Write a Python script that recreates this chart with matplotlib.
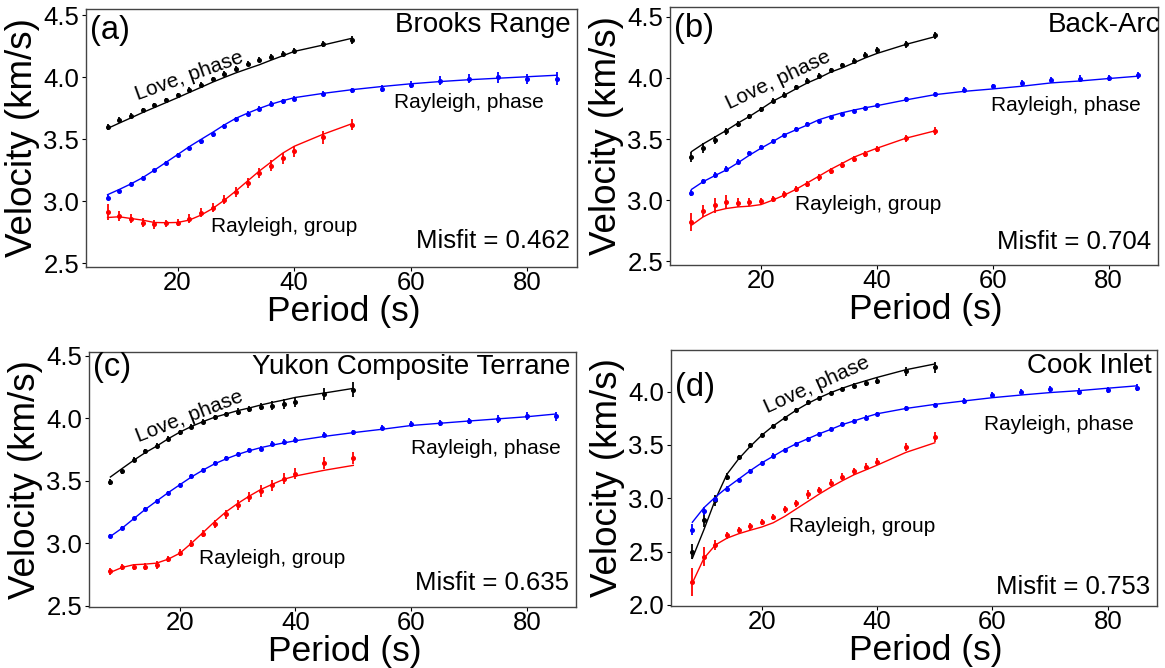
import matplotlib
matplotlib.use("Agg")
import matplotlib.pyplot as plt

plt.rcParams['font.family'] = ['Liberation Sans', 'DejaVu Sans']

# Periods (s)
periods_short = [8, 10, 12, 14, 16, 18, 20, 22, 24, 26, 28, 30, 32, 34, 36, 38, 40, 45, 50]
periods_long = periods_short + [55, 60, 65, 70, 75, 80, 85]

# ---------------- (a) Brooks Range ----------------
love_obs_a = [3.60, 3.656, 3.691, 3.733, 3.773, 3.813, 3.856, 3.899, 3.941, 3.984,
              4.027, 4.069, 4.109, 4.141, 4.165, 4.189, 4.213, 4.267, 4.301]
love_err_a = [0.025, 0.02, 0.02, 0.02, 0.02, 0.02, 0.02, 0.02, 0.02, 0.02,
              0.02, 0.02, 0.02, 0.02, 0.02, 0.02, 0.02, 0.025, 0.03]
love_fit_a = [3.587, 3.63, 3.672, 3.715, 3.755, 3.795, 3.835, 3.877, 3.918, 3.96,
              3.998, 4.035, 4.068, 4.10, 4.137, 4.172, 4.208, 4.26, 4.315]
rph_obs_a = [3.029, 3.083, 3.141, 3.187, 3.248, 3.309, 3.371, 3.432, 3.483, 3.539,
             3.603, 3.661, 3.707, 3.747, 3.787, 3.808, 3.827, 3.867, 3.893,
             3.909, 3.941, 3.973, 3.987, 4.0, 3.989, 3.989]
rph_err_a = [0.02, 0.015, 0.015, 0.015, 0.015, 0.015, 0.015, 0.015, 0.02, 0.02,
             0.02, 0.02, 0.02, 0.02, 0.02, 0.02, 0.02, 0.02, 0.02,
             0.025, 0.03, 0.035, 0.035, 0.045, 0.04, 0.05]
rph_fit_a = [3.053, 3.095, 3.14, 3.19, 3.25, 3.313, 3.376, 3.44, 3.498, 3.555,
             3.615, 3.669, 3.71, 3.748, 3.782, 3.81, 3.835, 3.87, 3.90,
             3.925, 3.947, 3.965, 3.98, 3.992, 4.004, 4.016]
rgr_obs_a = [2.912, 2.88, 2.861, 2.827, 2.813, 2.821, 2.827, 2.861, 2.909, 2.949,
             3.013, 3.075, 3.147, 3.227, 3.288, 3.347, 3.403, 3.515, 3.616]
rgr_err_a = [0.065, 0.04, 0.04, 0.035, 0.035, 0.03, 0.03, 0.035, 0.035, 0.035,
             0.035, 0.04, 0.04, 0.04, 0.045, 0.045, 0.045, 0.05, 0.045]
rgr_fit_a = [2.869, 2.875, 2.861, 2.848, 2.829, 2.827, 2.829, 2.848, 2.888, 2.941,
             3.008, 3.083, 3.163, 3.243, 3.315, 3.387, 3.443, 3.541, 3.627]

# ---------------- (b) Back-Arc ----------------
love_obs_b = [3.356, 3.425, 3.493, 3.562, 3.622, 3.685, 3.745, 3.814, 3.863, 3.926,
              3.978, 4.019, 4.063, 4.104, 4.142, 4.186, 4.227, 4.274, 4.348]
love_err_b = [0.04, 0.04, 0.03, 0.03, 0.025, 0.02, 0.02, 0.02, 0.02, 0.02,
              0.02, 0.02, 0.02, 0.02, 0.02, 0.025, 0.025, 0.03, 0.03]
love_fit_b = [3.397, 3.46, 3.515, 3.57, 3.63, 3.685, 3.745, 3.808, 3.858, 3.91,
              3.959, 4.0, 4.047, 4.082, 4.123, 4.164, 4.2, 4.274, 4.337]
rph_obs_b = [3.06, 3.156, 3.205, 3.252, 3.315, 3.384, 3.438, 3.485, 3.534, 3.581,
             3.622, 3.644, 3.677, 3.707, 3.732, 3.753, 3.775, 3.827, 3.868,
             3.904, 3.932, 3.959, 3.986, 3.995, 4.0, 4.022]
rph_err_b = [0.025, 0.02, 0.025, 0.025, 0.02, 0.02, 0.015, 0.015, 0.015, 0.015,
             0.015, 0.015, 0.015, 0.015, 0.015, 0.015, 0.015, 0.02, 0.015,
             0.02, 0.02, 0.025, 0.025, 0.025, 0.025, 0.03]
rph_fit_b = [3.088, 3.151, 3.20, 3.247, 3.305, 3.368, 3.425, 3.478, 3.534, 3.575,
             3.615, 3.658, 3.688, 3.715, 3.737, 3.756, 3.773, 3.82, 3.863,
             3.89, 3.91, 3.932, 3.959, 3.975, 3.995, 4.014]
rgr_obs_b = [2.822, 2.912, 2.959, 2.986, 2.981, 2.986, 2.992, 3.011, 3.047, 3.088,
             3.132, 3.186, 3.241, 3.288, 3.334, 3.378, 3.419, 3.507, 3.567]
rgr_err_b = [0.075, 0.05, 0.06, 0.06, 0.04, 0.03, 0.025, 0.025, 0.025, 0.025,
             0.025, 0.025, 0.025, 0.025, 0.025, 0.025, 0.025, 0.03, 0.03]
rgr_fit_b = [2.795, 2.863, 2.91, 2.932, 2.945, 2.951, 2.964, 3.0, 3.041, 3.088,
             3.142, 3.197, 3.252, 3.301, 3.351, 3.389, 3.425, 3.507, 3.567]

# ---------------- (c) Yukon Composite Terrane ----------------
love_obs_c = [3.491, 3.578, 3.668, 3.735, 3.782, 3.836, 3.889, 3.934, 3.973, 4.008,
              4.034, 4.053, 4.074, 4.093, 4.101, 4.114, 4.133, 4.194, 4.228]
love_err_c = [0.025, 0.02, 0.02, 0.02, 0.02, 0.02, 0.02, 0.02, 0.02, 0.02,
              0.02, 0.025, 0.025, 0.03, 0.035, 0.04, 0.04, 0.05, 0.06]
love_fit_c = [3.53, 3.597, 3.663, 3.724, 3.777, 3.836, 3.889, 3.934, 3.973, 4.008,
              4.034, 4.061, 4.082, 4.106, 4.127, 4.146, 4.167, 4.202, 4.239]
rph_obs_c = [3.061, 3.125, 3.199, 3.273, 3.340, 3.403, 3.467, 3.538, 3.589, 3.642,
             3.684, 3.716, 3.745, 3.756, 3.796, 3.814, 3.828, 3.867, 3.889,
             3.923, 3.955, 3.96, 3.976, 3.995, 4.016, 4.016]
rph_err_c = [0.015, 0.015, 0.015, 0.015, 0.015, 0.015, 0.015, 0.015, 0.015, 0.015,
             0.015, 0.015, 0.015, 0.02, 0.02, 0.02, 0.02, 0.02, 0.02,
             0.02, 0.025, 0.025, 0.025, 0.03, 0.03, 0.035]
rph_fit_c = [3.055, 3.12, 3.195, 3.27, 3.338, 3.405, 3.468, 3.53, 3.585, 3.635,
             3.675, 3.71, 3.74, 3.765, 3.785, 3.803, 3.82, 3.855, 3.885,
             3.912, 3.942, 3.96, 3.978, 3.995, 4.012, 4.034]
rgr_obs_c = [2.775, 2.809, 2.809, 2.814, 2.828, 2.875, 2.926, 2.997, 3.077, 3.156,
             3.231, 3.310, 3.371, 3.419, 3.464, 3.517, 3.557, 3.642, 3.682]
rgr_err_c = [0.03, 0.025, 0.025, 0.03, 0.03, 0.025, 0.03, 0.03, 0.03, 0.03,
             0.035, 0.04, 0.04, 0.045, 0.045, 0.045, 0.045, 0.05, 0.05]
rgr_fit_c = [2.767, 2.806, 2.828, 2.833, 2.841, 2.873, 2.92, 3.0, 3.085, 3.172,
             3.252, 3.318, 3.377, 3.43, 3.472, 3.512, 3.538, 3.584, 3.623]

# ---------------- (d) Cook Inlet ----------------
love_obs_d = [2.50, 2.80, 2.98, 3.204, 3.384, 3.495, 3.59, 3.675, 3.754, 3.826,
              3.899, 3.943, 3.984, 4.022, 4.057, 4.079, 4.101, 4.189, 4.227]
love_err_d = [0.07, 0.07, 0.05, 0.03, 0.025, 0.02, 0.02, 0.02, 0.02, 0.02,
              0.02, 0.02, 0.02, 0.02, 0.025, 0.03, 0.03, 0.04, 0.05]
love_fit_d = [2.437, 2.705, 2.99, 3.226, 3.368, 3.485, 3.59, 3.678, 3.754, 3.826,
              3.889, 3.943, 3.991, 4.032, 4.069, 4.101, 4.133, 4.205, 4.259]
rph_obs_d = [2.705, 2.879, 2.99, 3.091, 3.173, 3.258, 3.331, 3.40, 3.454, 3.507,
             3.552, 3.605, 3.646, 3.694, 3.725, 3.757, 3.788, 3.842, 3.874,
             3.912, 3.968, 4.0, 4.025, 4.0, 4.016, 4.038]
rph_err_d = [0.05, 0.04, 0.025, 0.02, 0.02, 0.02, 0.02, 0.02, 0.02, 0.02,
             0.02, 0.02, 0.02, 0.02, 0.02, 0.02, 0.02, 0.02, 0.02,
             0.025, 0.025, 0.025, 0.03, 0.03, 0.03, 0.03]
rph_fit_d = [2.775, 2.911, 3.012, 3.10, 3.179, 3.258, 3.331, 3.394, 3.457, 3.511,
             3.558, 3.605, 3.646, 3.691, 3.725, 3.76, 3.792, 3.842, 3.88,
             3.912, 3.943, 3.968, 3.991, 4.009, 4.032, 4.054]
rgr_obs_d = [2.216, 2.453, 2.563, 2.652, 2.705, 2.737, 2.778, 2.822, 2.895, 2.952,
             3.037, 3.078, 3.147, 3.204, 3.252, 3.296, 3.343, 3.479, 3.574]
rgr_err_d = [0.13, 0.09, 0.05, 0.03, 0.03, 0.03, 0.03, 0.03, 0.03, 0.03,
             0.04, 0.03, 0.03, 0.03, 0.03, 0.03, 0.03, 0.04, 0.05]
rgr_fit_d = [2.206, 2.437, 2.563, 2.626, 2.667, 2.70, 2.73, 2.77, 2.83, 2.90,
             2.97, 3.04, 3.105, 3.165, 3.22, 3.265, 3.31, 3.43, 3.52]

region_names = ["Brooks Range", "Back-Arc", "Yukon Composite Terrane", "Cook Inlet"]
panel_tags = ["(a)", "(b)", "(c)", "(d)"]
misfits = [0.462, 0.704, 0.635, 0.753]

panels = [
    dict(love=(love_obs_a, love_err_a, love_fit_a), rph=(rph_obs_a, rph_err_a, rph_fit_a),
         rgr=(rgr_obs_a, rgr_err_a, rgr_fit_a)),
    dict(love=(love_obs_b, love_err_b, love_fit_b), rph=(rph_obs_b, rph_err_b, rph_fit_b),
         rgr=(rgr_obs_b, rgr_err_b, rgr_fit_b)),
    dict(love=(love_obs_c, love_err_c, love_fit_c), rph=(rph_obs_c, rph_err_c, rph_fit_c),
         rgr=(rgr_obs_c, rgr_err_c, rgr_fit_c)),
    dict(love=(love_obs_d, love_err_d, love_fit_d), rph=(rph_obs_d, rph_err_d, rph_fit_d),
         rgr=(rgr_obs_d, rgr_err_d, rgr_fit_d)),
]

# Layout: axes rectangles in pixels (left, top, right, bottom) on a 1165x668 canvas
W, H = 1165, 668
boxes = [(86, 9, 577, 267), (670, 7, 1158, 265), (89, 352, 576, 607), (671, 350, 1157, 606)]
ylims = [(2.47, 4.55), (2.47, 4.58), (2.49, 4.53), (1.99, 4.39)]
yticks = [[2.5, 3.0, 3.5, 4.0, 4.5]] * 3 + [[2.0, 2.5, 3.0, 3.5, 4.0]]

# Curve label placement: (period, velocity, rotation)
love_lbl = [(13.1, 3.813, 19.7), (14.6, 3.74, 25.4), (12.8, 3.809, 21.3), (21.0, 3.795, 24.3)]
rph_lbl = [(57.2, 3.749), (59.6, 3.73), (60.0, 3.716), (58.6, 3.637)]
rgr_lbl = [(25.8, 2.755), (25.8, 2.923), (23.3, 2.833), (24.8, 2.68)]
misfit_y = [2.621, 2.603, 2.629, 2.099]
title_y = [0.912, 0.905, 0.913, 0.91]
title_x = [0.986, 1.005, 0.988, 0.99]
tag_y = [0.883, 0.884, 0.905, 0.82]

fig = plt.figure(figsize=(W / 100, H / 100), dpi=100)

for i, p in enumerate(panels):
    l, t, r, b = boxes[i]
    ax = fig.add_axes([l / W, 1 - b / H, (r - l) / W, (b - t) / H])
    for key, color, per in (("love", "black", periods_short),
                            ("rph", "blue", periods_long),
                            ("rgr", "red", periods_short)):
        obs, err, fit = p[key]
        ax.plot(per, fit, color=color, lw=1.0, zorder=2)
        ax.errorbar(per, obs, yerr=err, fmt="o", color=color, ms=2.6,
                    elinewidth=1.3, capsize=0, zorder=3)

    ax.set_xlim(4.3, 88.5)
    ax.set_ylim(*ylims[i])
    ax.set_xticks([20, 40, 60, 80])
    ax.set_yticks(yticks[i])
    ax.tick_params(labelsize=18.5, length=3, width=0.8, pad=2)
    ax.tick_params(axis="x", pad=0)
    for s in ax.spines.values():
        s.set_color("#444444")
        s.set_linewidth(1.0)
    ax.set_xlabel("Period (s)", fontsize=25.5, labelpad=0)
    ax.xaxis.label.set_x(0.525)
    ax.set_ylabel("Velocity (km/s)", fontsize=26.5, labelpad=2)

    x0, y0, rot = love_lbl[i]
    ax.text(x0, y0, "Love, phase", fontsize=15, rotation=rot, rotation_mode="anchor",
            ha="left", va="baseline")
    ax.text(*rph_lbl[i], "Rayleigh, phase", fontsize=15, ha="left", va="baseline")
    ax.text(*rgr_lbl[i], "Rayleigh, group", fontsize=15, ha="left", va="baseline")
    ax.text(0.985, misfit_y[i], f"Misfit = {misfits[i]:.3f}", fontsize=18.5, ha="right",
            va="baseline", transform=ax.get_yaxis_transform())
    ax.text(title_x[i], title_y[i], region_names[i], fontsize=20, ha="right",
            va="baseline", transform=ax.transAxes)
    ax.text(0.008, tag_y[i], panel_tags[i], fontsize=23.5, ha="left",
            va="baseline", transform=ax.transAxes)

fig.savefig("out.png", dpi=100)
